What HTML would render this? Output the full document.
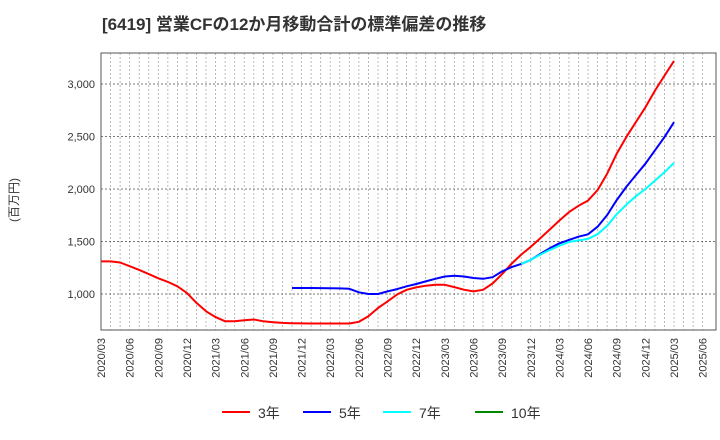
<!DOCTYPE html>
<html><head><meta charset="utf-8"><style>
body{margin:0;background:#fff;width:720px;height:440px;overflow:hidden;font-family:"Liberation Sans","Noto Sans CJK JP",sans-serif}
svg{position:absolute;left:0;top:0}
</style></head><body>
<svg id="c" width="720" height="440">
<text x="102" y="30" font-size="17" font-weight="bold" fill="#333">[6419]  営業CFの12か月移動合計の標準偏差の推移</text>
<text transform="translate(18,200) rotate(-90)" text-anchor="middle" font-size="12" fill="#333">(百万円)</text>
<g id="grid"></g><g id="series"></g><g id="axes"></g><g id="legend"></g>
</svg>
<script>
const yTicks=[1000,1500,2000,2500,3000];
const startYear=2020, startMonth=3, nMonths=64;
const red=[1310,1310,1300,1265,1230,1190,1150,1115,1073,1010,915,835,780,740,740,750,757,740,731,725,722,720,719,719,719,719,719,735,788,867,930,995,1040,1063,1079,1088,1088,1066,1041,1025,1040,1100,1190,1290,1375,1450,1530,1615,1700,1780,1840,1890,1990,2147,2336,2494,2636,2778,2936,3080,3220];
const blue=[null,null,null,null,null,null,null,null,null,null,null,null,null,null,null,null,null,null,null,null,1057,1057,1057,1056,1055,1053,1050,1016,1000,1000,1025,1047,1073,1095,1120,1145,1167,1174,1167,1152,1145,1160,1215,1256,1287,1325,1382,1436,1483,1515,1546,1569,1641,1752,1894,2020,2131,2241,2368,2494,2636];
const cyan=[null,null,null,null,null,null,null,null,null,null,null,null,null,null,null,null,null,null,null,null,null,null,null,null,null,null,null,null,null,null,null,null,null,null,null,null,null,null,null,null,null,null,null,null,1287,1325,1375,1420,1460,1495,1510,1525,1570,1650,1760,1850,1930,2000,2080,2160,2250];
const green=[];
const legendLabels=["3年","5年","7年","10年"];
const L=101,R=716,T=53,B=330;
const X=m=>L+m*9.55;
const Y=v=>294-(v-1000)*52.5/500;
const NS="http://www.w3.org/2000/svg";
function mk(t,a,p){const e=document.createElementNS(NS,t);for(const k in a)e.setAttribute(k,a[k]);p.appendChild(e);return e;}
const grid=document.getElementById('grid'),axes=document.getElementById('axes'),ser=document.getElementById('series'),leg=document.getElementById('legend');
for(let m=1;m<nMonths;m++){const x=X(m);const g=mk('line',{x1:x,x2:x,y1:T,y2:B,stroke:'#aaa','stroke-dasharray':'2,2','stroke-width':0.8},grid);

}
yTicks.forEach(v=>{const y=Y(v);const g=mk('line',{x1:L,x2:R,y1:y,y2:y,stroke:'#777','stroke-dasharray':'2,2','stroke-width':0.9},grid);


const t=mk('text',{x:L-6,y:y+4,'text-anchor':'end','font-size':11,fill:'#333'},axes);t.textContent=v.toLocaleString('en-US');

});
const fr=mk('rect',{x:L,y:T,width:R-L,height:B-T,fill:'none',stroke:'#555','stroke-width':1},axes);


for(let m=0;m<nMonths;m+=3){const tm=startMonth-1+m;const yr=startYear+Math.floor(tm/12),mo=tm%12+1;const x=X(m);
const t=mk('text',{transform:`translate(${x+4},${B+8}) rotate(-90)`,'text-anchor':'end','font-size':11,fill:'#333'},axes);t.textContent=yr+'/'+String(mo).padStart(2,'0');

}
function line(d,c,name){let p='';d.forEach((v,i)=>{if(v==null)return;p+=(p?'L':'M')+X(i).toFixed(1)+','+Y(v).toFixed(1);});if(!p)return;
const e=mk('path',{d:p,fill:'none',stroke:c,'stroke-width':2,'stroke-linejoin':'round'},ser);

}
line(red,'#f00','series-3y');line(blue,'#00f','series-5y');line(cyan,'#0ff','series-7y');line(green,'#080','series-10y');
const cols=['#f00','#00f','#0ff','#080'],lx=[222,303,383,475];
legendLabels.forEach((s,i)=>{const g=mk('g',{},leg);


mk('line',{x1:lx[i],x2:lx[i]+28,y1:412,y2:412,stroke:cols[i],'stroke-width':2},g);
const t=mk('text',{x:lx[i]+36,y:418,'font-size':14,fill:'#333'},g);t.textContent=s;});
</script>
</body></html>
